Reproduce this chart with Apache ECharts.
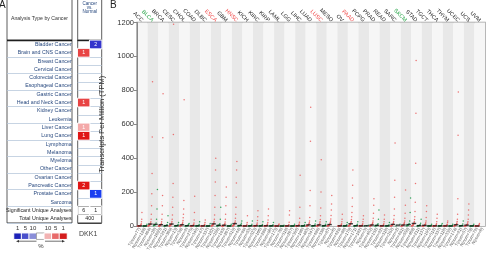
<!DOCTYPE html>
<html lang="en">
<head>
<meta charset="utf-8">
<title>DKK1 expression</title>
<script src="https://cdn.jsdelivr.net/npm/echarts@6/dist/echarts.min.js"></script>
<style>
  html, body { margin: 0; padding: 0; background: #fff; }
  #chart { width: 491px; height: 254px; }
</style>
</head>
<body>
<div id="chart"></div>
<script>
// ---- panel A : analysis counts by cancer ----
var analysisRows = ['Bladder Cancer','Brain and CNS Cancer','Breast Cancer','Cervical Cancer','Colorectal Cancer',
  'Esophageal Cancer','Gastric Cancer','Head and Neck Cancer','Kidney Cancer','Leukemia','Liver Cancer',
  'Lung Cancer','Lymphoma','Melanoma','Myeloma','Other Cancer','Ovarian Cancer','Pancreatic Cancer',
  'Prostate Cancer','Sarcoma'];
var summaryRows = ['Significant Unique Analyses', 'Total Unique Analyses'];
var upCount   = [null,1,null,null,null,null,null,1,null,null,1,1,null,null,null,null,null,2,null,null];
var upRank    = [null,5,null,null,null,null,null,5,null,null,10,1,null,null,null,null,null,1,null,null];
var downCount = [2,null,null,null,null,null,null,null,null,null,null,null,null,null,null,null,null,null,1,null];
var downRank  = [5,null,null,null,null,null,null,null,null,null,null,null,null,null,null,null,null,null,1,null];
var significant = [6, 1];
var totalAnalyses = 400;
var legendTicks = ['1','5','10','','10','5','1'];

// ---- panel B : TPM per cancer type (tumor / normal) ----
var cancerTypes = ['ACC','BLCA','BRCA','CESC','CHOL','COAD','DLBC','ESCA','GBM','HNSC','KICH','KIRC','KIRP',
  'LAML','LGG','LIHC','LUAD','LUSC','MESO','OV','PAAD','PCPG','PRAD','READ','SARC','SKCM','STAD','TGCT',
  'THCA','THYM','UCEC','UCS','UVM'];
var upTypes = ['ESCA','HNSC','LUSC','PAAD'];
var downTypes = ['BLCA','SKCM'];
var tumorNum  = [77,404,1085,306,36,275,47,182,163,519,66,523,286,173,518,369,483,486,87,426,179,182,492,92,262,461,408,137,512,118,174,57,79];
var normalNum = [128,28,291,13,9,349,337,286,207,44,53,100,60,70,207,160,347,338,0,88,171,3,152,318,2,558,211,165,337,339,91,78,0];

var tumorTPM = [
  [0,0,0,0,0.1,0.1,0.2,0.3,0.4,0.6,0.8,1.2,2,3,5,8,14,25,40,80],                     // ACC
  [0.5,1,1.5,2,3,4,5,6,8,10,13,17,25,40,70,120,190,310,525,850],                    // BLCA
  [0.2,0.4,0.7,1,1.5,2,2.8,3.8,5,6.5,8.5,11,16,25,40,70,120,180,520,780],           // BRCA
  [0.3,0.7,1.2,1.8,2.6,3.5,4.5,6,8,10,13,18,26,40,65,110,170,250,540,1190],         // CESC
  [0.2,0.4,0.7,1,1.4,2,2.7,3.5,4.5,6,8,11,15,22,32,48,70,100,150,745],              // CHOL
  [0,0.1,0.1,0.2,0.3,0.4,0.6,0.8,1,1.3,1.7,2.2,3,4.5,7,11,18,35,80,175],            // COAD
  [0,0,0,0.1,0.1,0.1,0.2,0.3,0.4,0.5,0.7,1,1.4,2,3,4.5,7,11,20,35],                 // DLBC
  [0.5,1,1.5,2,3,4,5,6.5,8.5,11,14,19,27,40,65,110,180,260,330,400],                // ESCA
  [0.1,0.2,0.4,0.6,0.9,1.2,1.6,2.2,3,4,5,7,10,15,24,40,70,120,170,230],             // GBM
  [0.5,1,1.5,2.2,3,4,5.5,7,9,12,16,21,30,45,70,110,170,253,330,380],                // HNSC
  [0,0,0,0,0,0.1,0.1,0.1,0.2,0.3,0.4,0.5,0.7,1,1.6,2.5,5,10,20,60],                 // KICH
  [0,0,0.1,0.1,0.2,0.3,0.4,0.5,0.7,1,1.3,1.8,2.5,3.8,6,10,18,32,55,90],             // KIRC
  [0,0,0.1,0.1,0.2,0.3,0.4,0.6,0.8,1.1,1.5,2,3,4.5,7,12,20,35,60,100],              // KIRP
  [0,0,0,0,0,0,0,0.1,0.1,0.1,0.2,0.2,0.3,0.5,0.8,1.3,2.2,4,7,12],                   // LAML
  [0,0,0,0.1,0.1,0.1,0.2,0.3,0.4,0.5,0.7,1,1.4,2,3,5,9,22,65,90],                   // LGG
  [0,0,0.1,0.1,0.2,0.3,0.4,0.6,0.8,1.1,1.5,2.1,3,4.5,7,12,22,45,110,300],           // LIHC
  [0.2,0.4,0.7,1,1.4,1.9,2.5,3.3,4.3,5.5,7,9.5,13,19,30,50,120,210,500,700],        // LUAD
  [0.2,0.4,0.7,1,1.4,1.9,2.5,3.3,4.3,5.5,7,9,12,17,25,38,60,106,200,390],           // LUSC
  [0.3,0.6,1,1.5,2,2.7,3.5,4.5,5.8,7.5,9.5,12,16,22,30,42,62,94,130,180],           // MESO
  [0,0,0.1,0.1,0.2,0.3,0.4,0.5,0.7,0.9,1.2,1.6,2.2,3.2,5,8,14,25,40,70],            // OV
  [0.5,1,1.5,2.2,3,4,5.3,7,9,11.5,15,20,27,38,55,80,115,165,240,330],               // PAAD
  [0,0,0.1,0.1,0.2,0.3,0.4,0.5,0.7,0.9,1.2,1.6,2.2,3.2,5,8,14,25,40,60],            // PCPG
  [0.2,0.4,0.7,1,1.4,1.9,2.5,3.2,4,5,6.5,8.5,11,15,21,30,45,75,123,160],            // PRAD
  [0,0,0.1,0.1,0.2,0.3,0.4,0.5,0.7,0.9,1.2,1.6,2.2,3.2,5,8,14,25,40,65],            // READ
  [0.3,0.6,1,1.5,2.1,2.8,3.7,4.8,6.2,8,10.5,14,19,27,40,62,100,170,270,490],        // SARC
  [0.2,0.4,0.7,1,1.4,1.9,2.5,3.2,4,5,6.5,8.5,11,15,21,30,45,75,123,212],            // SKCM
  [0.5,1,1.6,2.3,3.2,4.3,5.6,7.2,9.2,12,15,20,27,38,55,85,140,250,370,665,976],     // STAD
  [0.1,0.2,0.4,0.6,0.8,1.1,1.5,2,2.6,3.3,4.2,5.5,7,9.5,13,19,30,50,85,120],         // TGCT
  [0,0,0.1,0.1,0.2,0.3,0.4,0.5,0.7,0.9,1.2,1.6,2.2,3.2,5,8,14,25,45,70],            // THCA
  [0,0,0,0.1,0.1,0.1,0.2,0.3,0.4,0.5,0.7,1,1.4,2,3,4.5,7,11,20,30],                 // THYM
  [0.3,0.6,1,1.4,1.9,2.5,3.2,4,5,6.3,8,10,13,18,26,40,70,160,535,790],              // UCEC
  [0.2,0.4,0.7,1,1.3,1.7,2.2,2.8,3.5,4.4,5.5,7,9,12,17,25,40,65,94,130],            // UCS
  [0,0,0,0,0,0,0.1,0.1,0.1,0.2,0.2,0.3,0.4,0.6,0.9,1.4,2.3,4,8,15]                  // UVM
];
var normalTPM = [
  [0,0,0.1,0.1,0.2,0.3,0.5,1,3,10],          // ACC
  [2,3,4.5,6,8,11,18,40,100,215],            // BLCA
  [0.3,0.5,0.8,1.2,1.8,2.6,4,8,20,60],       // BRCA
  [0.2,0.4,0.6,0.9,1.3,1.8,2.6,4.5,9,20],    // CESC
  [0.2,0.4,0.7,1,1.5,2.2,3.5,6,10,15],       // CHOL
  [0.1,0.2,0.4,0.6,0.9,1.3,2,3.5,9,25],      // COAD
  [0,0,0.1,0.1,0.2,0.3,0.5,1,4,15],          // DLBC
  [0.5,1,1.5,2.2,3,4.5,7,14,40,110],         // ESCA
  [0,0,0.1,0.1,0.2,0.3,0.5,1,3,10],          // GBM
  [0.3,0.6,1,1.5,2.2,3,4.5,8,16,30],         // HNSC
  [0.1,0.2,0.4,0.6,0.9,1.3,2,4,10,30],       // KICH
  [0.1,0.2,0.3,0.5,0.8,1.2,2,3.5,9,25],      // KIRC
  [0.1,0.2,0.3,0.5,0.7,1,1.6,3,7,20],        // KIRP
  [0,0,0,0,0.1,0.1,0.2,0.4,1,5],             // LAML
  [0,0,0.1,0.1,0.2,0.3,0.5,1,3,10],          // LGG
  [0.1,0.2,0.3,0.5,0.7,1,1.6,3,7,20],        // LIHC
  [0.2,0.3,0.5,0.8,1.2,1.8,2.8,5,12,30],     // LUAD
  [0.2,0.3,0.5,0.8,1.2,1.8,2.8,5,11,25],     // LUSC
  [],                                        // MESO
  [0.1,0.2,0.3,0.5,0.7,1,1.6,3,7,20],        // OV
  [0.2,0.3,0.5,0.8,1.2,1.8,2.8,5,11,25],     // PAAD
  [0.2,1.5,5],                               // PCPG
  [0.5,1,1.5,2.2,3,4.5,7,14,40,94],          // PRAD
  [0.1,0.2,0.4,0.6,0.9,1.3,2,3.5,8,20],      // READ
  [0.5,10],                                  // SARC
  [1,2,3,4.5,6.5,9.5,15,30,80,165],          // SKCM
  [0.3,0.5,0.8,1.2,1.8,2.6,4,7,16,40],       // STAD
  [0.1,0.1,0.2,0.3,0.5,0.7,1,2,4.5,10],      // TGCT
  [0.1,0.1,0.2,0.3,0.5,0.8,1.2,2.3,6,15],    // THCA
  [0,0,0.1,0.1,0.2,0.3,0.5,1,3,10],          // THYM
  [0.2,0.3,0.5,0.8,1.2,1.8,2.8,5,12,30],     // UCEC
  [0.1,0.1,0.2,0.3,0.5,0.7,1,2,4.5,10],      // UCS
  []                                         // UVM
];

var FONT = 'Liberation Sans';
var upColor = {1: '#e01616', 5: '#e84444', 10: '#f4a9a9'};
var downColor = {1: '#1a3ef0', 5: '#3535cc', 10: '#8c8ce0'};
var legendColors = ['#1c22b8', '#4a50cc', '#8a8ed8', '#ffffff', '#f2b2b2', '#e86a6a', '#d41c1c'];

function median(a) {
  if (!a.length) return null;
  var m = Math.floor(a.length / 2);
  return a.length % 2 ? a[m] : (a[m - 1] + a[m]) / 2;
}

// heatmap cells of panel A
var rowNames = analysisRows.concat(summaryRows);
var cellData = [];
analysisRows.forEach(function (r, i) {
  if (upCount[i] != null) cellData.push({value: [0, i, upCount[i]], itemStyle: {color: upColor[upRank[i]]}});
  if (downCount[i] != null) cellData.push({value: [1, i, downCount[i]], itemStyle: {color: downColor[downRank[i]]}});
});
significant.forEach(function (v, k) {
  cellData.push({value: [k, analysisRows.length, v], itemStyle: {color: 'rgba(255,255,255,0)'}, label: {color: '#222'}});
});
var legendData = legendTicks.map(function (t, k) {
  return {value: [k, 0, k], itemStyle: {color: legendColors[k], borderColor: k === 3 ? '#777' : '#fff', borderWidth: k === 3 ? 0.6 : 1}};
});

// row separator colours: black under header, above / between summary rows
var rowLineColors = [];
for (var i = 0; i <= rowNames.length; i++) rowLineColors.push(i === 0 || i >= analysisRows.length ? '#222' : '#b9c9dc');

// dots of panel B
var tumorPts = [], normalPts = [], medianPts = [], sampleLabels = [];
cancerTypes.forEach(function (t, i) {
  var tv = tumorTPM[i], nv = normalTPM[i];
  tv.forEach(function (v, k) { tumorPts.push([i + 0.05 + 0.42 * k / (tv.length - 1), v]); });
  nv.forEach(function (v, k) { normalPts.push([i + 0.56 + 0.38 * (nv.length > 1 ? k / (nv.length - 1) : 0.5), v]); });
  medianPts.push([i + 0.26, median(tv)]);
  if (nv.length) medianPts.push([i + 0.75, median(nv)]);
  sampleLabels.push('T(num=' + tumorNum[i] + ')', 'N(num=' + normalNum[i] + ')');
});
var typeLabels = cancerTypes.map(function (t) {
  var c = upTypes.indexOf(t) >= 0 ? '#f04a4a' : (downTypes.indexOf(t) >= 0 ? '#2aa54a' : '#222');
  return {value: t, textStyle: {color: c}};
});
var rowLabels = rowNames.map(function (r, i) {
  return {value: r, textStyle: {color: i < analysisRows.length ? '#27487e' : '#222'}};
});

var chart = echarts.init(document.getElementById('chart'));
chart.setOption({
  animation: false,
  textStyle: {fontFamily: FONT},
  grid: [
    {left: 7, top: 40.3, width: 65, height: 182.6, show: true, borderColor: '#333', borderWidth: 0.8},
    {left: 77.7, top: 40.3, width: 24, height: 182.6, show: true, borderColor: '#333', borderWidth: 0.8},
    {left: 14, top: 233.2, width: 53, height: 6},
    {left: 137, top: 22.5, right: 6, bottom: 28, show: true, borderColor: '#a0a0a0', borderWidth: 1.5}
  ],
  xAxis: [
    {gridIndex: 0, type: 'value', min: 0, max: 1, show: false},
    {gridIndex: 1, type: 'category', data: ['up', 'down'], show: false},
    {gridIndex: 2, type: 'category', data: legendTicks, position: 'top',
      axisLine: {show: false}, axisTick: {show: false},
      axisLabel: {fontSize: 6, color: '#333', margin: 1.5, interval: 0}},
    {gridIndex: 3, type: 'value', min: 0, max: cancerTypes.length, interval: 1,
      axisLine: {show: false}, axisTick: {show: false}, axisLabel: {show: false},
      splitLine: {show: false},
      splitArea: {show: true, areaStyle: {color: ['#f6f6f6', '#e8e8e8']}}},
    {gridIndex: 3, type: 'category', data: typeLabels, position: 'top',
      axisLine: {show: false}, axisTick: {show: false},
      axisLabel: {rotate: 45, fontSize: 5.5, margin: 1.5, interval: 0, verticalAlign: 'top'}},
    {gridIndex: 3, type: 'category', data: sampleLabels, position: 'bottom',
      axisLine: {show: false}, axisTick: {show: false},
      axisLabel: {rotate: 60, fontSize: 4.2, color: '#555', margin: 2, interval: 0}}
  ],
  yAxis: [
    {gridIndex: 0, type: 'category', data: rowNames, inverse: true,
      axisLine: {show: false}, axisTick: {show: false}, axisLabel: {show: false},
      splitLine: {show: true, lineStyle: {color: rowLineColors, width: 0.8}}},
    {gridIndex: 1, type: 'category', data: rowLabels, inverse: true,
      axisLine: {show: false}, axisTick: {show: false},
      axisLabel: {fontSize: 5.3, margin: 6, interval: 0},
      splitLine: {show: true, lineStyle: {color: rowLineColors, width: 0.8}}},
    {gridIndex: 2, type: 'category', data: [''], show: false},
    {gridIndex: 3, type: 'value', min: 0, max: 1200, interval: 200,
      name: 'Transcripts Per Million (TPM)', nameLocation: 'middle', nameGap: 25,
      nameTextStyle: {fontSize: 7.5, color: '#333'},
      axisLine: {show: true, lineStyle: {color: '#888'}},
      axisTick: {show: true, length: 3, lineStyle: {color: '#888'}},
      axisLabel: {fontSize: 7.5, color: '#333', margin: 3, formatter: function (v) { return String(v); }},
      splitLine: {show: false}}
  ],
  series: [
    {type: 'heatmap', xAxisIndex: 1, yAxisIndex: 1, data: cellData,
      itemStyle: {borderColor: '#fff', borderWidth: 1},
      label: {show: true, fontSize: 5.3, color: '#fff', formatter: function (p) { return p.value[2]; }}},
    {type: 'heatmap', xAxisIndex: 2, yAxisIndex: 2, data: legendData, label: {show: false}},
    {type: 'scatter', xAxisIndex: 3, yAxisIndex: 3, data: tumorPts, symbolSize: 1.5,
      itemStyle: {color: '#ea5a5a', opacity: 0.85}},
    {type: 'scatter', xAxisIndex: 3, yAxisIndex: 3, data: normalPts, symbolSize: 1.5,
      itemStyle: {color: '#1f9a4c', opacity: 0.9}},
    {type: 'scatter', xAxisIndex: 3, yAxisIndex: 3, data: medianPts, symbol: 'rect', symbolSize: [4.5, 1.4],
      itemStyle: {color: '#111'}}
  ],
  graphic: [
    {type: 'rect', shape: {x: 7, y: -2, width: 65, height: 42.3}, style: {fill: 'none', stroke: '#333', lineWidth: 0.8}},
    {type: 'rect', shape: {x: 77.7, y: -2, width: 24, height: 42.3}, style: {fill: 'none', stroke: '#333', lineWidth: 0.8}},
    {type: 'line', shape: {x1: 7, y1: 40.5, x2: 72, y2: 40.5}, style: {stroke: '#111', lineWidth: 1.4}},
    {type: 'line', shape: {x1: 77.7, y1: 40.5, x2: 101.7, y2: 40.5}, style: {stroke: '#111', lineWidth: 1.4}},
    {type: 'text', left: -1, top: 0, style: {text: 'A', fontSize: 10, fontFamily: FONT, fill: '#222'}},
    {type: 'text', left: 110, top: 0, style: {text: 'B', fontSize: 10, fontFamily: FONT, fill: '#222'}},
    {type: 'text', x: 39.5, y: 19, style: {text: 'Analysis Type by Cancer', fontSize: 5.2, fontFamily: FONT,
      fill: '#333', textAlign: 'center', textVerticalAlign: 'middle'}},
    {type: 'text', x: 89.7, y: 1.5, style: {text: 'Cancer\nvs.\nNormal', fontSize: 4.5, lineHeight: 4.3,
      fontFamily: FONT, fill: '#27487e', textAlign: 'center'}},
    {type: 'text', x: 89.7, y: 218.7, style: {text: String(totalAnalyses), fontSize: 5.3, fontFamily: FONT,
      fill: '#222', textAlign: 'center', textVerticalAlign: 'middle'}},
    {type: 'line', shape: {x1: 36.5, y1: 241.2, x2: 18, y2: 241.2}, style: {stroke: '#333', lineWidth: 0.7}},
    {type: 'polygon', shape: {points: [[16, 241.2], [19, 239.9], [19, 242.5]]}, style: {fill: '#333'}},
    {type: 'line', shape: {x1: 45, y1: 241.2, x2: 63, y2: 241.2}, style: {stroke: '#333', lineWidth: 0.7}},
    {type: 'polygon', shape: {points: [[65, 241.2], [62, 239.9], [62, 242.5]]}, style: {fill: '#333'}},
    {type: 'text', x: 41, y: 243.5, style: {text: '%', fontSize: 6, fontFamily: FONT, fill: '#333', textAlign: 'center'}},
    {type: 'text', x: 79, y: 231, style: {text: 'DKK1', fontSize: 7, fontFamily: FONT, fill: '#444'}}
  ]
});
</script>
</body>
</html>
